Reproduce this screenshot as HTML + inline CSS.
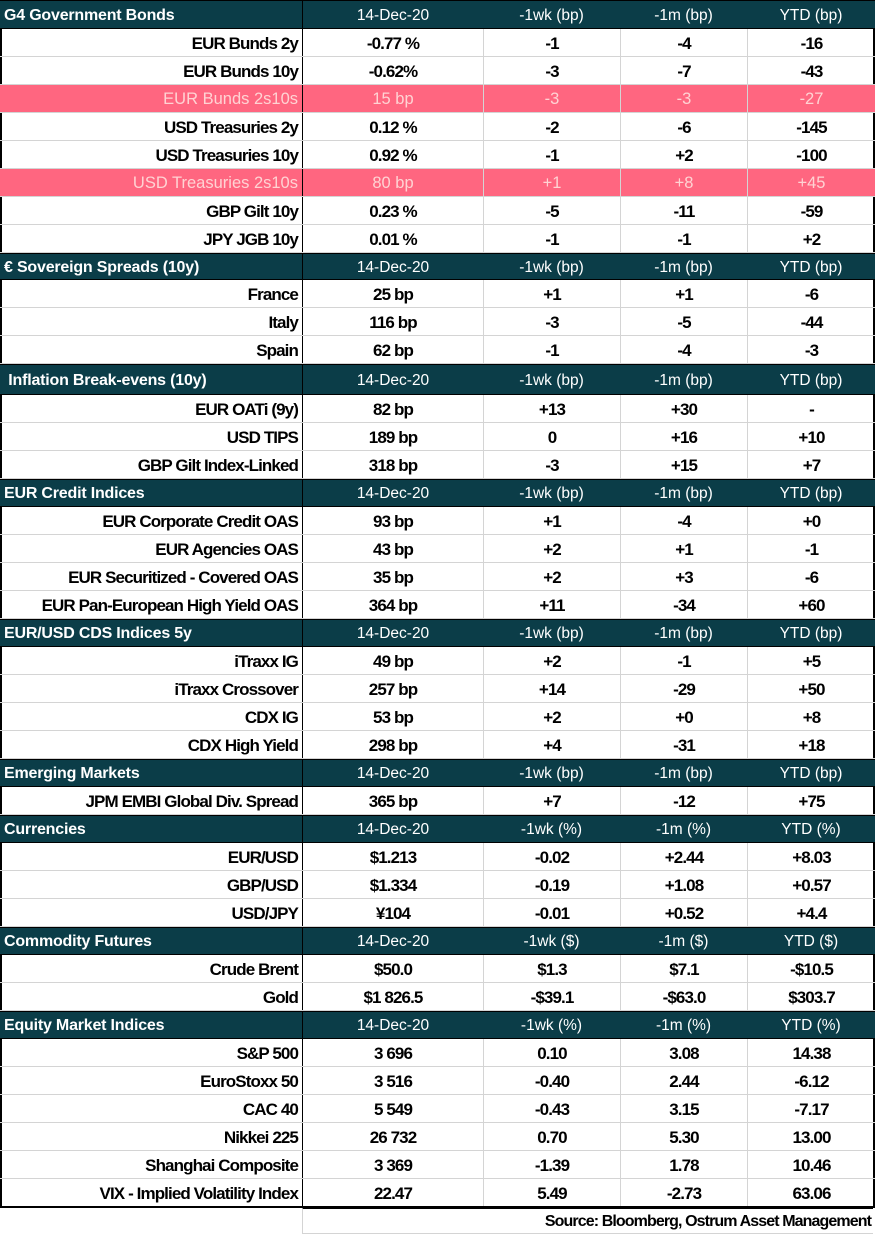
<!DOCTYPE html>
<html><head><meta charset="utf-8"><style>
body{margin:0;width:876px;height:1235px;background:#fff;position:relative;overflow:hidden;font-family:"Liberation Sans",Arial,sans-serif}
.r{position:absolute;left:0;width:875px;box-sizing:border-box}
.c{position:absolute;top:0;height:100%;display:flex;align-items:center;justify-content:center;box-sizing:border-box;white-space:nowrap;padding-top:2px}
.d{border-bottom:1px solid #d4d4d4}
.d .c{font-weight:bold;font-size:17px;letter-spacing:-0.9px;color:#000}
.d .c.l{justify-content:flex-end;padding-right:4px}
.d .c+.c{border-left:1px solid #d4d4d4}
.d .c.v1{border-left:1px solid #000}
.h{background:#0b3d48;color:#fff;border-top:1px solid #000;border-bottom:1px solid #000}
.h .c{font-size:15.5px}
.h .c.l{justify-content:flex-start;padding-left:4px;font-weight:bold;font-size:16px;letter-spacing:-0.2px}
.h .c.v1{border-left:1px solid #000}
.p{background:#ff6680}
.p .c{color:#ffd3d3!important;font-weight:normal!important;letter-spacing:0!important;font-size:16.5px!important}
</style></head><body>
<div style="position:absolute;left:0;top:0;width:2px;height:1207px;background:#000"></div>
<div style="position:absolute;left:873px;top:0;width:2px;height:1207px;background:#000"></div>
<script>
const sections=[
["G4 Government Bonds","bp",29,[["EUR Bunds 2y","-0.77 %","-1","-4","-16"],["EUR Bunds 10y","-0.62%","-3","-7","-43"],["EUR Bunds 2s10s","15 bp","-3","-3","-27",1],["USD Treasuries 2y","0.12 %","-2","-6","-145"],["USD Treasuries 10y","0.92 %","-1","+2","-100"],["USD Treasuries 2s10s","80 bp","+1","+8","+45",1],["GBP Gilt 10y","0.23 %","-5","-11","-59"],["JPY JGB  10y","0.01 %","-1","-1","+2"]]],
["€ Sovereign Spreads (10y)","bp",27,[["France","25 bp","+1","+1","-6"],["Italy","116 bp","-3","-5","-44"],["Spain","62 bp","-1","-4","-3"]]],
["\u00a0Inflation Break-evens (10y)","bp",31,[["EUR OATi (9y)","82 bp","+13","+30","-"],["USD TIPS","189 bp","0","+16","+10"],["GBP Gilt Index-Linked","318 bp","-3","+15","+7"]]],
["EUR Credit Indices","bp",28,[["EUR Corporate Credit OAS","93 bp","+1","-4","+0"],["EUR Agencies OAS","43 bp","+2","+1","-1"],["EUR Securitized - Covered OAS","35 bp","+2","+3","-6"],["EUR Pan-European High Yield OAS","364 bp","+11","-34","+60"]]],
["EUR/USD CDS Indices 5y","bp",28,[["iTraxx IG ","49 bp","+2","-1","+5"],["iTraxx Crossover ","257 bp","+14","-29","+50"],["CDX IG","53 bp","+2","+0","+8"],["CDX High Yield","298 bp","+4","-31","+18"]]],
["Emerging Markets","bp",28,[["JPM EMBI Global Div. Spread ","365 bp","+7","-12","+75"]]],
["Currencies","%",28,[["EUR/USD","$1.213","-0.02","+2.44","+8.03"],["GBP/USD","$1.334","-0.19","+1.08","+0.57"],["USD/JPY","¥104","-0.01","+0.52","+4.4"]]],
["Commodity Futures","$",28,[["Crude Brent","$50.0","$1.3","$7.1","-$10.5"],["Gold","$1 826.5","-$39.1","-$63.0","$303.7"]]],
["Equity Market Indices","%",28,[["S&P 500","3 696","0.10","3.08","14.38"],["EuroStoxx 50","3 516","-0.40","2.44","-6.12"],["CAC 40","5 549","-0.43","3.15","-7.17"],["Nikkei 225","26 732","0.70","5.30","13.00"],["Shanghai Composite","3 369","-1.39","1.78","10.46"],["VIX - Implied Volatility Index","22.47","5.49","-2.73","63.06"]]]
];
const cols=[[0,302],[302,483],[483,620],[620,747],[747,875]];
let y=0;
function row(cls,h,vals){
  const r=document.createElement('div');r.className='r '+cls;r.style.top=y+'px';r.style.height=h+'px';
  
  
  vals.forEach((v,i)=>{const c=document.createElement('div');c.className='c'+(i==0?' l':'')+(i==1?' v1':'');
    c.style.left=cols[i][0]+'px';c.style.width=(cols[i][1]-cols[i][0])+'px';c.textContent=v;
    
    
    r.appendChild(c);});
  document.body.appendChild(r);y+=h;
}
sections.forEach(s=>{
  row('h',s[2],[s[0],'14-Dec-20','-1wk ('+s[1]+')','-1m ('+s[1]+')','YTD ('+s[1]+')']);
  s[3].forEach(d=>row('d'+(d[5]?' p':''),28,d.slice(0,5)));
});
const src=document.createElement('div');


src.style.cssText='position:absolute;left:302px;top:1207px;width:571px;height:27px;border-left:1px solid #d4d4d4;border-bottom:1px solid #d4d4d4;border-top:2px solid #000;box-sizing:border-box;display:flex;align-items:center;justify-content:flex-end;font-weight:bold;font-size:16px;letter-spacing:-0.9px;padding-right:2px;padding-top:2px';
src.textContent='Source: Bloomberg, Ostrum Asset Management';
document.body.appendChild(src);
const bl=document.createElement('div');


bl.style.cssText='position:absolute;left:0;top:1206px;width:875px;height:2px;background:#000';
document.body.appendChild(bl);
</script>
</body></html>
